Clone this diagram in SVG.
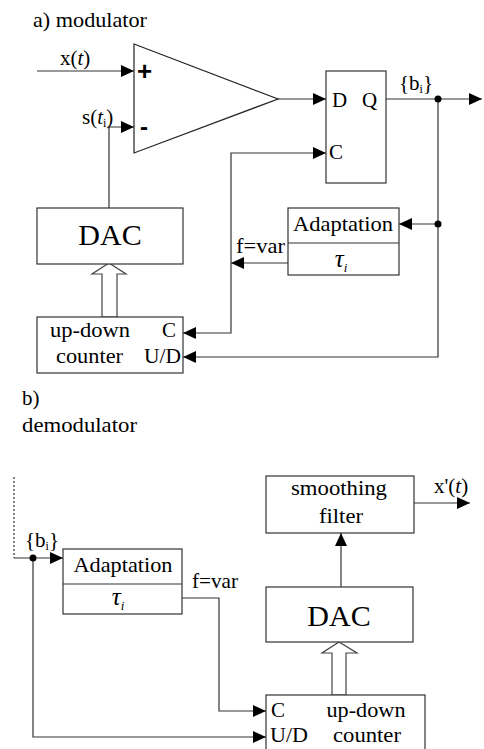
<svg xmlns="http://www.w3.org/2000/svg" width="484" height="749" viewBox="0 0 484 749" font-family="'Liberation Serif','Times New Roman',serif">
<defs>
<marker id="ah" markerUnits="userSpaceOnUse" markerWidth="14" markerHeight="12" refX="13" refY="6" orient="auto-start-reverse">
<path d="M0,0 L13,6 L0,12 Z" fill="#000"/>
</marker>
<style>
.t{font-family:"Liberation Serif","Times New Roman",serif;font-size:21px;fill:#000}
.big{font-size:30px}
.box{fill:#fff;stroke:#333;stroke-width:1.2}
.ln{fill:none;stroke:#333;stroke-width:1.2}
.ar{fill:none;stroke:#333;stroke-width:1.2;marker-end:url(#ah)}
.dot{fill:#000}
.hollow{fill:#fff;stroke:#444;stroke-width:1.2}
.tau{font-size:25px;font-style:italic}
</style>
</defs>
<rect width="484" height="749" fill="#fff"/>

<text class="t" x="33" y="27" textLength="114" lengthAdjust="spacingAndGlyphs">a) modulator</text>
<text class="t" x="22" y="405">b)</text>
<text class="t" x="22" y="432" textLength="115" lengthAdjust="spacingAndGlyphs">demodulator</text>

<g id="connectors">
<!-- part a -->
<line class="ar" x1="37" y1="71" x2="134" y2="71"/>
<path class="ar" d="M109,208 V127 H134"/>
<line class="ar" x1="278" y1="99" x2="326" y2="99"/>
<line class="ar" x1="386" y1="99" x2="482" y2="99"/>
<path class="ar" d="M438,99 V357 H183"/>
<line class="ar" x1="438" y1="224" x2="399" y2="224"/>
<line class="ar" x1="288" y1="263" x2="231" y2="263"/>
<path class="ar" d="M183,333 H231 V153 H326" style="marker-start:url(#ah)"/>
<circle class="dot" cx="438" cy="99" r="3.5"/>
<circle class="dot" cx="438" cy="224" r="3.5"/>
<polygon class="hollow" points="102,317 102,274 92,274 109,263 126,274 117,274 117,317"/>
<!-- part b -->
<line class="ln" x1="14" y1="477" x2="14" y2="558" stroke-dasharray="2,2"/>
<line class="ar" x1="14" y1="558" x2="63" y2="558"/>
<path class="ar" d="M33,558 V737 H266"/>
<path class="ar" d="M182,598 H219 V711 H266"/>
<polygon class="hollow" points="332,695 332,653 322,653 339,642 357,653 346,653 346,695"/>
<line class="ar" x1="341" y1="587" x2="341" y2="533"/>
<line class="ar" x1="414" y1="503" x2="470" y2="503"/>
<circle class="dot" cx="33" cy="558" r="3.5"/>
</g>

<text class="t" x="60" y="65">x(<tspan font-style="italic">t</tspan>)</text>
<text class="t" x="82" y="124">s(<tspan font-style="italic">t</tspan><tspan font-size="12" dy="3">i</tspan><tspan dy="-3">)</tspan></text>
<text class="t" x="399" y="90">{b<tspan font-size="12" dy="3">i</tspan><tspan dy="-3">}</tspan></text>
<text class="t" x="236" y="253" textLength="49" lengthAdjust="spacingAndGlyphs">f=var</text>
<text class="t" x="25" y="547">{b<tspan font-size="12" dy="3">i</tspan><tspan dy="-3">}</tspan></text>
<text class="t" x="192" y="588" textLength="46" lengthAdjust="spacingAndGlyphs">f=var</text>
<text class="t" x="434" y="493">x'(<tspan font-style="italic">t</tspan>)</text>

<g id="comparator">
<polygon points="134,44 278,99 134,153" fill="#fff" stroke="#222" stroke-width="1.2"/>
<text x="137" y="80" font-family="Liberation Sans, Arial, sans-serif" font-size="26" font-weight="bold">+</text>
<text x="140" y="135" font-family="Liberation Sans, Arial, sans-serif" font-size="24" font-weight="bold">-</text>
</g>

<g id="flipflop">
<rect class="box" x="326" y="71" width="60" height="112"/>
<text class="t" x="332" y="107" font-size="22">D</text>
<text class="t" x="362" y="107" font-size="22">Q</text>
<text class="t" x="329" y="159" font-size="22">C</text>
</g>

<g id="dac-a">
<rect class="box" x="37" y="208" width="146" height="56"/>
<text class="t big" x="110" y="245" text-anchor="middle">DAC</text>
</g>

<g id="adaptation-a">
<rect class="box" x="288" y="208" width="111" height="67"/>
<line class="ln" x1="288" y1="243" x2="399" y2="243"/>
<text class="t" x="343" y="231" text-anchor="middle" textLength="100" lengthAdjust="spacingAndGlyphs">Adaptation</text>
<text class="t tau" x="341" y="267" text-anchor="middle">τ<tspan font-size="13" dy="5">i</tspan></text>
</g>

<g id="counter-a">
<rect class="box" x="37" y="317" width="146" height="56"/>
<text class="t" x="50" y="337" textLength="80" lengthAdjust="spacingAndGlyphs">up-down</text>
<text class="t" x="56" y="363" textLength="67" lengthAdjust="spacingAndGlyphs">counter</text>
<text class="t" x="162" y="337">C</text>
<text class="t" x="144" y="363" textLength="37" lengthAdjust="spacingAndGlyphs">U/D</text>
</g>

<g id="adaptation-b">
<rect class="box" x="63" y="549" width="119" height="65"/>
<line class="ln" x1="63" y1="584" x2="182" y2="584"/>
<text class="t" x="123" y="572" text-anchor="middle" textLength="99" lengthAdjust="spacingAndGlyphs">Adaptation</text>
<text class="t tau" x="118" y="605" text-anchor="middle">τ<tspan font-size="13" dy="5">i</tspan></text>
</g>

<g id="filter">
<rect class="box" x="266" y="476" width="148" height="57"/>
<text class="t" x="339" y="495" text-anchor="middle" textLength="96" lengthAdjust="spacingAndGlyphs">smoothing</text>
<text class="t" x="341" y="523" text-anchor="middle" textLength="44" lengthAdjust="spacingAndGlyphs">filter</text>
</g>

<g id="dac-b">
<rect class="box" x="266" y="587" width="147" height="55"/>
<text class="t big" x="339" y="626" text-anchor="middle">DAC</text>
</g>

<g id="counter-b">
<rect class="box" x="266" y="695" width="159" height="60"/>
<text class="t" x="271" y="717">C</text>
<text class="t" x="366" y="717" text-anchor="middle" textLength="79" lengthAdjust="spacingAndGlyphs">up-down</text>
<text class="t" x="270" y="742" textLength="38" lengthAdjust="spacingAndGlyphs">U/D</text>
<text class="t" x="367" y="742" text-anchor="middle" textLength="68" lengthAdjust="spacingAndGlyphs">counter</text>
</g>
</svg>
